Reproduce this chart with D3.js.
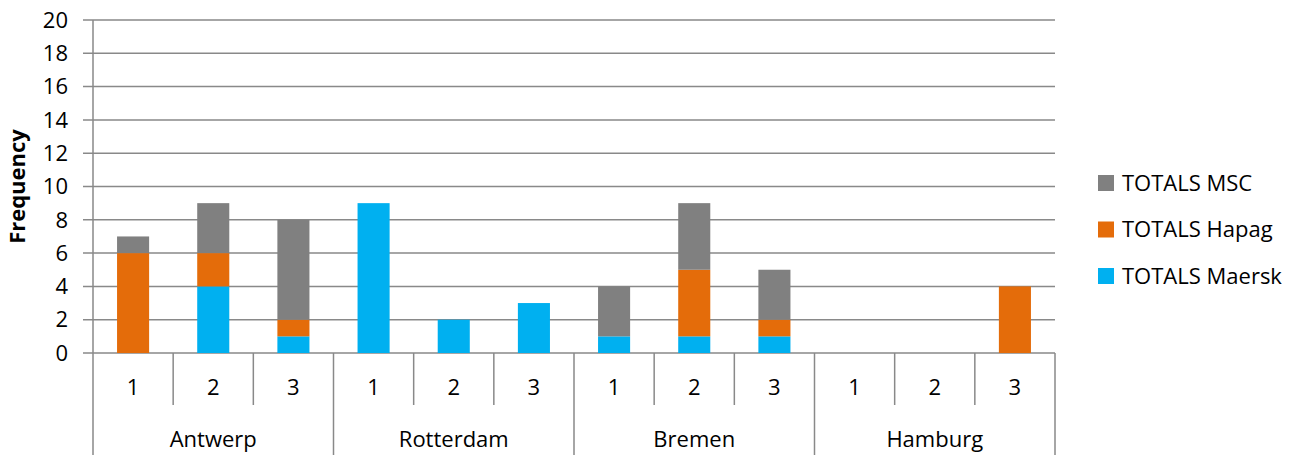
<!DOCTYPE html>
<html>
<head>
<meta charset="utf-8">
<script src="https://cdn.jsdelivr.net/npm/d3@7"></script>
<style>
  body { margin: 0; background: #fff; }
  text { font-family: "Open Sans", "Noto Sans", sans-serif; fill: #000; }
</style>
</head>
<body>
<svg id="chart" width="1301" height="455"></svg>
<script>
// Ports and sub-categories
var ports = ["Antwerp", "Rotterdam", "Bremen", "Hamburg"];
var subs = ["1", "2", "3"];

// Series values, in port/sub order
var maersk = [0, 4, 1, 9, 2, 3, 1, 1, 1, 0, 0, 0];
var hapag  = [6, 2, 1, 0, 0, 0, 0, 4, 1, 0, 0, 4];
var msc    = [1, 3, 6, 0, 0, 0, 3, 4, 3, 0, 0, 0];

var seriesNames = ["TOTALS Maersk", "TOTALS Hapag", "TOTALS MSC"];
var colors = ["#00b0f0", "#e46c0a", "#808080"];
var yTicks = [0, 2, 4, 6, 8, 10, 12, 14, 16, 18, 20];

var svg = d3.select("#chart");
var plotL = 93, plotR = 1055, plotT = 20, plotB = 353;
var fs = "22px";

// Build rows for stacking
var rows = [];
ports.forEach(function(p, i) {
  subs.forEach(function(s, j) {
    var k = i * subs.length + j;
    rows.push({ key: p + "-" + s, port: p, sub: s,
      "TOTALS Maersk": maersk[k], "TOTALS Hapag": hapag[k], "TOTALS MSC": msc[k] });
  });
});

var x = d3.scaleBand()
  .domain(rows.map(function(d) { return d.key; }))
  .range([plotL, plotR])
  .paddingInner(0.6)
  .paddingOuter(0.3);

var y = d3.scaleLinear().domain([0, 20]).range([plotB, plotT]);

// Gridlines
svg.append("g")
  .selectAll("line")
  .data(yTicks)
  .enter()
  .append("line")
  .attr("x1", plotL - 10)
  .attr("x2", plotR)
  .attr("y1", function(d) { return y(d); })
  .attr("y2", function(d) { return y(d); })
  .attr("stroke", "#898989")
  .attr("stroke-width", 1.5);

// Y tick labels
svg.append("g")
  .selectAll("text")
  .data(yTicks)
  .enter()
  .append("text")
  .attr("x", plotL - 25)
  .attr("y", function(d) { return y(d); })
  .attr("dy", "0.35em")
  .attr("text-anchor", "end")
  .attr("font-size", fs)
  .text(function(d) { return d; });

// Y axis line
svg.append("line")
  .attr("x1", plotL).attr("x2", plotL)
  .attr("y1", plotT).attr("y2", plotB)
  .attr("stroke", "#898989")
  .attr("stroke-width", 1.5);

// Axis title
svg.append("text")
  .attr("transform", "translate(25," + ((plotT + plotB) / 2) + ") rotate(-90)")
  .attr("text-anchor", "middle")
  .attr("font-size", "22px")
  .attr("font-weight", "700")
  .text("Frequency");

// Stacked bars
var stack = d3.stack().keys(seriesNames);
var layers = stack(rows);

svg.append("g")
  .selectAll("g")
  .data(layers)
  .enter()
  .append("g")
  .attr("fill", function(d, i) { return colors[i]; })
  .selectAll("rect")
  .data(function(d) { return d.filter(function(s) { return s[1] - s[0] > 0; }); })
  .enter()
  .append("rect")
  .attr("x", function(d) { return x(d.data.key); })
  .attr("y", function(d) { return y(d[1]); })
  .attr("width", x.bandwidth())
  .attr("height", function(d) { return y(d[0]) - y(d[1]); });

// X axis: sub-category separators and labels
var slotW = (plotR - plotL) / rows.length;
var xa = svg.append("g");
d3.range(rows.length + 1).forEach(function(i) {
  var isGroup = i % subs.length === 0;
  xa.append("line")
    .attr("x1", plotL + i * slotW).attr("x2", plotL + i * slotW)
    .attr("y1", plotB).attr("y2", isGroup ? 455 : 405)
    .attr("stroke", "#898989")
    .attr("stroke-width", 1.5);
});

xa.selectAll("text.sub")
  .data(rows)
  .enter()
  .append("text")
  .attr("class", "sub")
  .attr("x", function(d, i) { return plotL + (i + 0.5) * slotW; })
  .attr("y", 387)
  .attr("dy", "0.35em")
  .attr("text-anchor", "middle")
  .attr("font-size", fs)
  .text(function(d) { return d.sub; });

xa.selectAll("text.port")
  .data(ports)
  .enter()
  .append("text")
  .attr("class", "port")
  .attr("x", function(d, i) { return plotL + (i + 0.5) * slotW * subs.length; })
  .attr("y", 439)
  .attr("dy", "0.35em")
  .attr("text-anchor", "middle")
  .attr("font-size", fs)
  .text(function(d) { return d; });

// Legend (MSC on top)
var legendOrder = [2, 1, 0];
var legend = svg.append("g")
  .selectAll("g")
  .data(legendOrder)
  .enter()
  .append("g")
  .attr("transform", function(d, i) { return "translate(1098," + (183 + i * 46.5) + ")"; });

legend.append("rect")
  .attr("x", 0).attr("y", -8)
  .attr("width", 16).attr("height", 16)
  .attr("fill", function(d) { return colors[d]; });

legend.append("text")
  .attr("x", 24)
  .attr("dy", "0.35em")
  .attr("font-size", fs)
  .text(function(d) { return seriesNames[d]; });
</script>
</body>
</html>
